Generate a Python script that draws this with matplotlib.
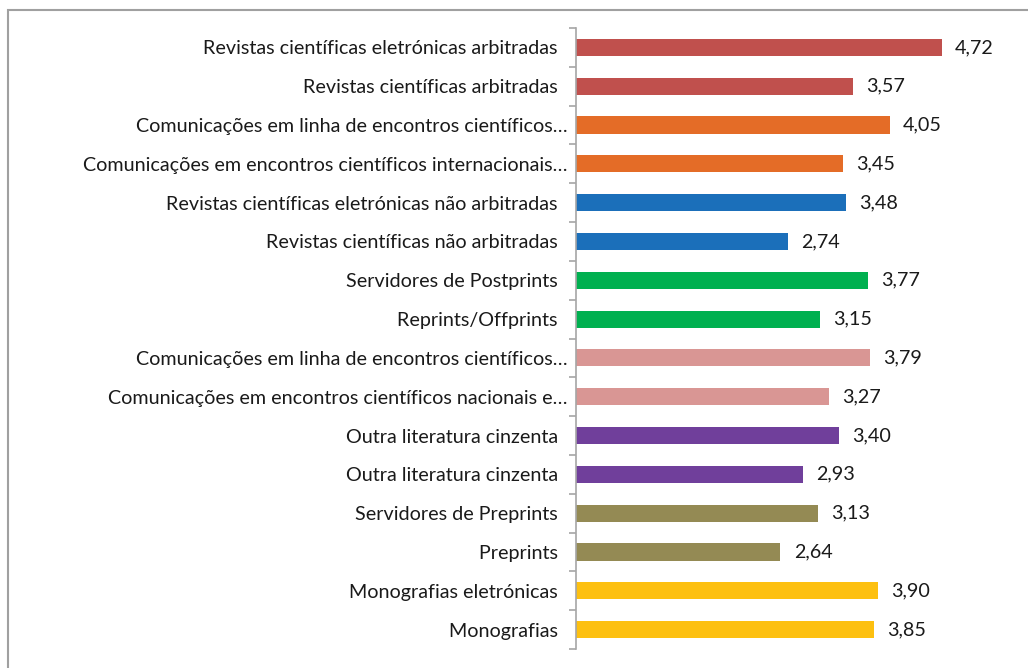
import matplotlib.pyplot as plt
from matplotlib.patches import Rectangle

# Data (top to bottom as shown)
labels = [
    "Revistas científicas eletrónicas arbitradas  ",
    "Revistas científicas arbitradas  ",
    "Comunicações em linha de encontros científicos…",
    "Comunicações em encontros científicos internacionais…",
    "Revistas científicas eletrónicas não arbitradas  ",
    "Revistas científicas não arbitradas  ",
    "Servidores de Postprints  ",
    "Reprints/Offprints  ",
    "Comunicações em linha de encontros científicos…",
    "Comunicações em encontros científicos nacionais e…",
    "Outra literatura cinzenta  ",
    "Outra literatura cinzenta  ",
    "Servidores de Preprints  ",
    "Preprints  ",
    "Monografias eletrónicas  ",
    "Monografias  ",
]
values = [4.72, 3.57, 4.05, 3.45, 3.48, 2.74, 3.77, 3.15,
          3.79, 3.27, 3.40, 2.93, 3.13, 2.64, 3.90, 3.85]
pair_colors = ["#C0504D", "#E46C27", "#1B6FBA", "#00B050",
               "#D99694", "#703F9B", "#948A54", "#FDC010"]
colors = [c for c in pair_colors for _ in range(2)]

plt.rcParams['font.family'] = ['Lato', 'DejaVu Sans']

fig = plt.figure(figsize=(10.28, 6.68), dpi=100)
ax = fig.add_axes([576/1028, 1 - 649/668, 426/1028, 621/668])

y = list(range(len(values)))[::-1]
ax.barh(y, values, height=0.44, color=colors)
ax.set_ylim(-0.5, len(values) - 0.5)
ax.set_xlim(0, 5.5)
ax.set_yticks([i + 0.5 for i in range(-1, len(values))], minor=False)
ax.set_yticklabels([])
ax.tick_params(axis='y', which='major', length=5, color='#A6A6A6', width=1.2)
ax.set_yticks(y, minor=True)
ax.set_yticklabels(labels, minor=True, fontsize=14.2, color='#1a1a1a')
ax.tick_params(axis='y', which='minor', length=0, pad=6)
ax.set_xticks([])

for s in ['top', 'right', 'bottom']:
    ax.spines[s].set_visible(False)
ax.spines['left'].set_color('#A6A6A6')
ax.spines['left'].set_linewidth(1.2)

for yi, v in zip(y, values):
    ax.text(v + 0.17, yi, f"{v:.2f}".replace('.', ','), va='center',
            ha='left', fontsize=14.2, color='#1a1a1a')

# outer chart border
fig.patches.append(Rectangle((8/1028, -0.1), 1.2, (1 - 10/668) + 0.1,
                             transform=fig.transFigure, fill=False,
                             edgecolor='#A0A0A0', linewidth=1.5))

fig.savefig("out.png", dpi=100)
